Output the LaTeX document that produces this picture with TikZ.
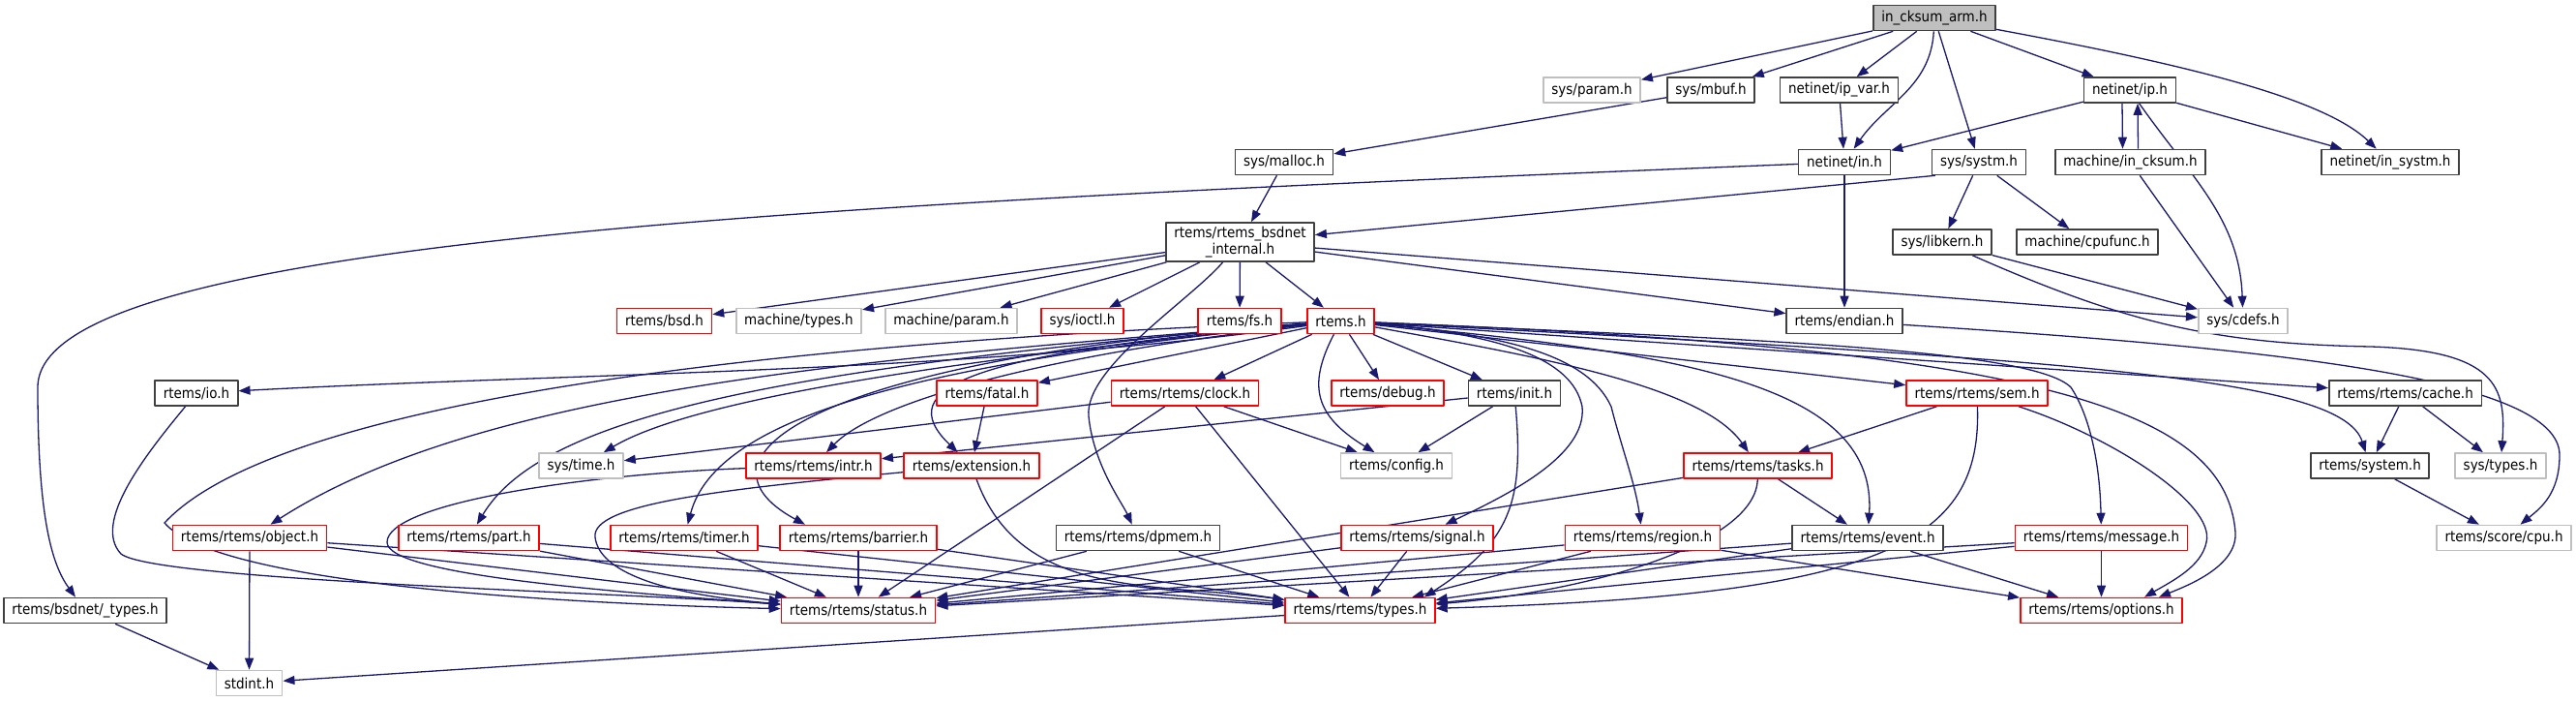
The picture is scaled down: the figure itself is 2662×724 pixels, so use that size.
\documentclass[tikz,border=0pt]{standalone}
\usepackage{fontspec}
\setmainfont{DejaVu Sans Condensed}
\usetikzlibrary{arrows.meta}
\definecolor{edgeblue}{HTML}{191970}
\definecolor{extgray}{HTML}{BFBFBF}
\definecolor{boxline}{HTML}{404040}
\definecolor{cutred}{HTML}{FF0000}
\pgfdeclarelayer{bg}
\pgfsetlayers{bg,main}
\begin{document}
\begin{tikzpicture}[x=1pt, y=1pt, line join=round, >={Triangle[length=12pt,width=9pt]},
    hdr/.style={draw=boxline, line width=1.6pt, fill=white, minimum height=26pt,
      inner xsep=8.5pt, inner ysep=0pt, font=\fontsize{15}{17}\selectfont},
    hdrext/.style={hdr, draw=extgray},
    hdrcut/.style={hdr, draw=cutred},
    hdrtop/.style={hdr, fill=extgray},
    dep/.style={->, draw=edgeblue, line width=1.3pt}]
  \useasboundingbox (0,0) rectangle (2662,-724);
  % headers, row by row
  \node[hdrtop] (arm) at (1999,-18.5) {in\_cksum\_arm.h};
  \node[hdrext] (param) at (1645,-93) {sys/param.h};
  \node[hdr] (mbuf) at (1768,-93) {sys/mbuf.h};
  \node[hdr] (ipvar) at (1900.5,-93) {netinet/ip\_var.h};
  \node[hdr] (ip) at (2201,-93) {netinet/ip.h};
  \node[hdr] (malloc) at (1327,-167.5) {sys/malloc.h};
  \node[hdr] (netin) at (1906,-167.5) {netinet/in.h};
  \node[hdr] (systm) at (2045,-167.5) {sys/systm.h};
  \node[hdr] (incksum) at (2201.5,-167.5) {machine/in\_cksum.h};
  \node[hdr] (insystm) at (2470,-167.5) {netinet/in\_systm.h};
  \node[hdr, minimum height=40pt, align=center] (bsdint) at (1281.5,-250) {rtems/rtems\_bsdnet\\\_internal.h};
  \node[hdr] (libkern) at (2007,-250) {sys/libkern.h};
  \node[hdr] (cpufunc) at (2157,-250) {machine/cpufunc.h};
  \node[hdrcut] (bsd) at (686.5,-331.5) {rtems/bsd.h};
  \node[hdrext] (mtypes) at (825.5,-331.5) {machine/types.h};
  \node[hdrext] (mparam) at (983,-331.5) {machine/param.h};
  \node[hdrcut] (ioctl) at (1118.5,-331.5) {sys/ioctl.h};
  \node[hdrcut] (fs) at (1281,-331.5) {rtems/fs.h};
  \node[hdrcut] (rtems) at (1385.5,-331.5) {rtems.h};
  \node[hdr] (endian) at (1906,-331.5) {rtems/endian.h};
  \node[hdrext] (cdefs) at (2318,-331.5) {sys/cdefs.h};
  \node[hdr] (io) at (203,-406) {rtems/io.h};
  \node[hdrcut] (fatal) at (1020,-406) {rtems/fatal.h};
  \node[hdrcut] (clock) at (1224.5,-406) {rtems/rtems/clock.h};
  \node[hdrcut] (debug) at (1434,-406) {rtems/debug.h};
  \node[hdr] (init) at (1565,-406) {rtems/init.h};
  \node[hdrcut] (sem) at (2043,-406) {rtems/rtems/sem.h};
  \node[hdr] (cache) at (2485.5,-406) {rtems/rtems/cache.h};
  \node[hdrext] (systime) at (600.5,-481) {sys/time.h};
  \node[hdrcut] (intr) at (840.5,-481) {rtems/rtems/intr.h};
  \node[hdrcut] (extension) at (1004,-481) {rtems/extension.h};
  \node[hdrext] (config) at (1443,-481) {rtems/config.h};
  \node[hdrcut] (tasks) at (1816.5,-481) {rtems/rtems/tasks.h};
  \node[hdr] (system) at (2449,-481) {rtems/system.h};
  \node[hdrext] (systypes) at (2584,-481) {sys/types.h};
  \node[hdrcut] (object) at (258,-555.5) {rtems/rtems/object.h};
  \node[hdrcut] (part) at (484.5,-555.5) {rtems/rtems/part.h};
  \node[hdrcut] (timer) at (707,-555.5) {rtems/rtems/timer.h};
  \node[hdrcut] (barrier) at (887,-555.5) {rtems/rtems/barrier.h};
  \node[hdr] (dpmem) at (1176,-555.5) {rtems/rtems/dpmem.h};
  \node[hdrcut] (signal) at (1464.5,-555.5) {rtems/rtems/signal.h};
  \node[hdrcut] (region) at (1697.5,-555.5) {rtems/rtems/region.h};
  \node[hdr] (event) at (1930,-555.5) {rtems/rtems/event.h};
  \node[hdrcut] (message) at (2171.5,-555.5) {rtems/rtems/message.h};
  \node[hdrext] (cpu) at (2587.5,-555.5) {rtems/score/cpu.h};
  \node[hdr] (bsdtypes) at (88,-630.5) {rtems/bsdnet/\_types.h};
  \node[hdrcut] (status) at (887,-630.5) {rtems/rtems/status.h};
  \node[hdrcut] (types) at (1405.5,-630.5) {rtems/rtems/types.h};
  \node[hdrcut] (options) at (2171.5,-630.5) {rtems/rtems/options.h};
  \node[hdrext] (stdint) at (257.5,-705.5) {stdint.h};

  \begin{pgfonlayer}{bg}
  % straight includes
  \foreach \a/\b in {arm/param, arm/mbuf, arm/ipvar, arm/systm, arm/ip, mbuf/malloc,
      ipvar/netin, ip/netin, ip/insystm, incksum/cdefs, malloc/bsdint, netin/endian,
      systm/libkern, systm/cpufunc, libkern/cdefs, bsdint/bsd, bsdint/mtypes,
      bsdint/mparam, bsdint/ioctl, bsdint/fs, bsdint/rtems, bsdint/endian, bsdint/cdefs,
      rtems/fatal, rtems/clock, rtems/debug, rtems/init, rtems/sem, rtems/cache,
      fatal/extension, clock/systime, clock/config, clock/status, clock/types,
      init/config, init/intr, sem/tasks, cache/system, cache/systypes, system/cpu,
      tasks/event, tasks/status, object/stdint, object/status, object/types,
      part/status, part/types, timer/status, timer/types, barrier/status, barrier/types,
      dpmem/status, dpmem/types, signal/status, signal/types, region/status,
      region/types, region/options, event/status, event/types, event/options,
      message/status, message/types, message/options, types/stdint, bsdtypes/stdint}
    \draw[dep] (\a) -- (\b);
  % curved includes
  \draw[dep] (arm) to[out=-93,in=55] (netin);
  \draw[dep] (arm) .. controls (2250,-65) and (2400,-100) .. (insystm);
  \draw[dep] ([xshift=-8pt]ip.south) -- ([xshift=-8pt]incksum.north);
  \draw[dep] ([xshift=8pt]incksum.north) -- ([xshift=8pt]ip.south);
  \draw[dep] (ip) to[out=-55,in=92] (cdefs);
  \draw[dep] ([xshift=4pt]systm.south west) -- (bsdint);
  \draw[dep] (netin) .. controls (800,-212) and (39,-250) .. (39,-400)
    .. controls (39,-540) and (55,-585) .. (bsdtypes);
  \draw[dep] (libkern) .. controls (2200,-335) and (2290,-355) .. (2450,-358)
    .. controls (2580,-362) and (2590,-400) .. (systypes);
  \draw[dep] (endian) .. controls (2350,-360) and (2645,-390) .. (2645,-470)
    .. controls (2645,-510) and (2625,-525) .. (cpu);
  \draw[dep] (bsdint) .. controls (1230,-310) and (1120,-380) .. (1125,-430)
    .. controls (1130,-480) and (1160,-520) .. (dpmem);
  % rtems.h to the left
  \draw[dep] (rtems) .. controls (1000,-385) and (600,-385) .. (io);
  \draw[dep] (rtems) .. controls (900,-370) and (500,-400) .. (object);
  \draw[dep] (rtems) .. controls (1000,-370) and (720,-410) .. (systime);
  \draw[dep] (rtems) .. controls (800,-380) and (560,-430) .. (part);
  \draw[dep] (rtems) .. controls (950,-375) and (740,-430) .. (timer);
  \draw[dep] (rtems) .. controls (850,-370) and (700,-470) .. ([xshift=-55pt]barrier.north);
  \draw[dep] (rtems) .. controls (1050,-370) and (900,-420) .. (intr);
  \draw[dep] (rtems) .. controls (1000,-365) and (920,-400) .. (extension);
  \draw[dep] (rtems) .. controls (1350,-400) and (1360,-430) .. (config);
  \draw[dep] (rtems) .. controls (900,-350) and (300,-400) .. (170,-540)
    .. controls (230,-610) and (650,-625) .. (status);
  % rtems.h to the right
  \draw[dep] (rtems) .. controls (1550,-345) and (1625,-370) .. (1635,-420)
    .. controls (1640,-470) and (1560,-510) .. (signal);
  \draw[dep] (rtems) .. controls (1550,-345) and (1640,-365) .. (1665,-420)
    .. controls (1675,-460) and (1690,-500) .. (region);
  \draw[dep] (rtems) .. controls (1600,-370) and (1760,-400) .. (tasks);
  \draw[dep] (rtems) .. controls (1750,-365) and (1940,-400) .. (event);
  \draw[dep] (rtems) .. controls (1800,-350) and (2100,-360) .. (2140,-400)
    .. controls (2160,-430) and (2170,-480) .. (message);
  \draw[dep] (rtems) .. controls (2100,-360) and (2300,-420) .. (2310,-550)
    .. controls (2312,-585) and (2260,-605) .. ([xshift=-25pt]options.north east);
  \draw[dep] (rtems) .. controls (2150,-372) and (2420,-390) .. (system);
  % loops into status.h
  \draw[dep] (io) .. controls (150,-470) and (95,-540) .. (125,-572)
    .. controls (160,-600) and (650,-612) .. (status);
  \draw[dep] (intr) .. controls (600,-490) and (400,-520) .. (400,-560)
    .. controls (400,-595) and (650,-612) .. (status);
  \draw[dep] (extension) .. controls (750,-505) and (610,-520) .. (615,-555)
    .. controls (620,-595) and (700,-615) .. (status);
  % into types.h and options.h
  \draw[dep] (extension) to[out=-70,in=172] (types);
  \draw[dep] (init) .. controls (1575,-520) and (1560,-560) .. ([xshift=-12pt]types.north east);
  \draw[dep] (tasks) .. controls (1815,-560) and (1650,-610) .. (types);
  \draw[dep] (sem) .. controls (2048,-560) and (1950,-615) .. (types);
  \draw[dep] (sem) .. controls (2180,-450) and (2290,-520) .. (2280,-560)
    .. controls (2275,-585) and (2245,-600) .. ([xshift=-40pt]options.north east);
  \end{pgfonlayer}
\end{tikzpicture}
\end{document}
